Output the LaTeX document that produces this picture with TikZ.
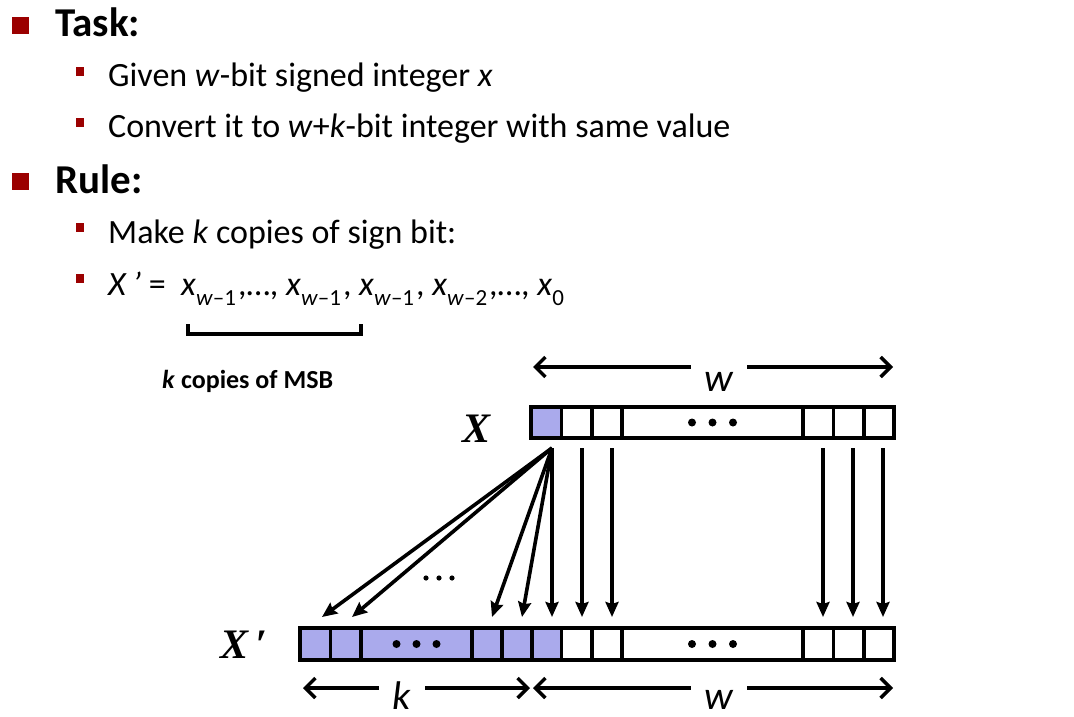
\documentclass[tikz,border=0pt]{standalone}
\usepackage{fontspec}
\setmainfont{Carlito}
\newfontfamily\timesf{Liberation Serif}
\usetikzlibrary{arrows.meta}
\definecolor{slidered}{RGB}{155,0,0}
\definecolor{bitblue}{RGB}{170,170,236}
\newcommand\sbs[1]{\raisebox{-0.3em}{\fontsize{23}{23}\selectfont #1}}
\tikzset{
  cellbox/.style={draw=black, line width=3.6pt, rectangle, inner sep=0pt, minimum height=31pt},
  bigbullet/.style={fill=slidered, draw=none, rectangle, inner sep=0pt, minimum size=17pt},
  smallbullet/.style={fill=slidered, draw=none, rectangle, inner sep=0pt, minimum width=8pt, minimum height=9pt},
  heading/.style={anchor=base west, inner sep=0pt, font=\fontsize{41}{48}\selectfont\bfseries},
  item/.style={anchor=base west, inner sep=0pt, font=\fontsize{34}{40}\selectfont},
  copyarrow/.style={line width=3.6pt, arrows={-Stealth[length=15pt,width=13pt,inset=2pt]}},
  dimarrow/.style={line width=3.4pt, arrows={Straight Barb[length=10pt,width=20pt]-Straight Barb[length=10pt,width=20pt]}},
  dimlabel/.style={fill=white, anchor=base, inner xsep=14pt, inner ysep=1pt, text height=27pt, text depth=0pt, font=\fontsize{40}{40}\selectfont\itshape},
  reglabel/.style={inner sep=0pt, anchor=base, font=\fontsize{42}{44}\selectfont\timesf\bfseries\itshape},
}
\begin{document}
\begin{tikzpicture}[x=1pt,y=-1pt]
\useasboundingbox (0,0) rectangle (1074,717);

% ---- bullet text ----
\node[bigbullet] (b1bul) at (20.5,25.5) {};
\node[heading] (task) at (55,37) {Task:};
\node[smallbullet] (s1bul) at (80,71.5) {};
\node[item] (given) at (108,87) {Given \textit{w}-bit signed integer \textit{x}};
\node[smallbullet] (s2bul) at (80,122.5) {};
\node[item] (convert) at (108,137) {Convert it to \textit{w}+\textit{k}-bit integer with same value};
\node[bigbullet] (b2bul) at (20.5,181.5) {};
\node[heading] (rule) at (55,193) {Rule:};
\node[smallbullet] (s3bul) at (80,227.5) {};
\node[item] (make) at (108,243) {Make \textit{k} copies of sign bit:};
\node[smallbullet] (s4bul) at (80,278.5) {};
\node[item] (formula) at (108,295) {\textit{X}\,\textit{'} =\ \ \textit{x}\sbs{\textit{w}–1}\kern2pt,…, \textit{x}\sbs{\textit{w}–1}\kern2pt, \textit{x}\sbs{\textit{w}–1}\kern2pt, \textit{x}\sbs{\textit{w}–2}\kern2pt,…, \textit{x}\sbs{0}};

% bracket
\coordinate (brl) at (188,324);
\coordinate (brr) at (361,324);
\draw[line width=3.2pt] (brl) -- ++(0,10) -| (brr);
\node[anchor=base west, inner sep=0pt, font=\fontsize{26}{30}\selectfont\bfseries] (msb) at (162,388) {\textit{k} copies of MSB};

% ---- top register X ----
\node[cellbox, fill=bitblue, minimum width=30.5pt] (t1) at (546.25,422.5) {};
\node[cellbox, minimum width=30.5pt] (t2) at (576.75,422.5) {};
\node[cellbox, minimum width=30pt] (t3) at (607,422.5) {};
\node[cellbox, minimum width=181pt] (t4) at (712.5,422.5) {};
\node[cellbox, minimum width=30.5pt] (t5) at (818.25,422.5) {};
\node[cellbox, minimum width=30.5pt] (t6) at (848.75,422.5) {};
\node[cellbox, minimum width=30pt] (t7) at (879,422.5) {};
\foreach \dx in {-20.5,0,20.5} \fill ([xshift=\dx pt]t4.center) circle (4pt);
\node[reglabel] (xlab) at (477,442) {X};

% ---- bottom register X' ----
\node[cellbox, fill=bitblue, minimum width=30.5pt, minimum height=32pt] (b1) at (315.25,644) {};
\node[cellbox, fill=bitblue, minimum width=30.5pt, minimum height=32pt] (b2) at (345.75,644) {};
\node[cellbox, fill=bitblue, minimum width=111pt, minimum height=32pt] (b3) at (416.5,644) {};
\node[cellbox, fill=bitblue, minimum width=30pt, minimum height=32pt] (b4) at (487,644) {};
\node[cellbox, fill=bitblue, minimum width=30pt, minimum height=32pt] (b5) at (517,644) {};
\node[cellbox, fill=bitblue, minimum width=29.5pt, minimum height=32pt] (b6) at (546.75,644) {};
\node[cellbox, minimum width=30.5pt, minimum height=32pt] (b7) at (576.75,644) {};
\node[cellbox, minimum width=30pt, minimum height=32pt] (b8) at (607,644) {};
\node[cellbox, minimum width=181pt, minimum height=32pt] (b9) at (712.5,644) {};
\node[cellbox, minimum width=30.5pt, minimum height=32pt] (b10) at (818.25,644) {};
\node[cellbox, minimum width=30.5pt, minimum height=32pt] (b11) at (848.75,644) {};
\node[cellbox, minimum width=30pt, minimum height=32pt] (b12) at (879,644) {};
\foreach \dx in {-20,0,20} \fill ([xshift=\dx pt]b3.center) circle (4pt);
\foreach \dx in {-20.5,0,20.5} \fill ([xshift=\dx pt]b9.center) circle (4pt);
\node[reglabel] (xplab) at (244,658) {X\,\char"2032};

% ---- copy arrows ----
\coordinate (src) at (552,448);
\foreach \n/\x in {1/322,2/352,3/492,4/522,5/552} \coordinate (e\n) at (\x,617);
\foreach \n/\x in {6/582,7/612,8/823,9/853,10/883} {
  \coordinate (s\n) at (\x,448);
  \coordinate (e\n) at (\x,617);
}
\foreach \n in {1,...,5} \draw[copyarrow] (src) -- (e\n);
\foreach \n in {6,...,10} \draw[copyarrow] (s\n) -- (e\n);
\foreach \x in {426,439,452} \fill (\x,578) circle (2.6pt);

% ---- dimension arrows ----
\coordinate (tw1) at (533,367);
\coordinate (tw2) at (893,367);
\draw[dimarrow] (tw1) -- (tw2);
\node[dimlabel] (twlab) at (719,391) {w};
\coordinate (bk1) at (303,688);
\coordinate (bk2) at (530,688);
\coordinate (bw1) at (533,688);
\coordinate (bw2) at (893,688);
\draw[dimarrow] (bk1) -- (bk2);
\draw[dimarrow] (bw1) -- (bw2);
\node[dimlabel] (bklab) at (402,709) {k};
\node[dimlabel] (bwlab) at (719,709) {w};
\end{tikzpicture}
\end{document}
